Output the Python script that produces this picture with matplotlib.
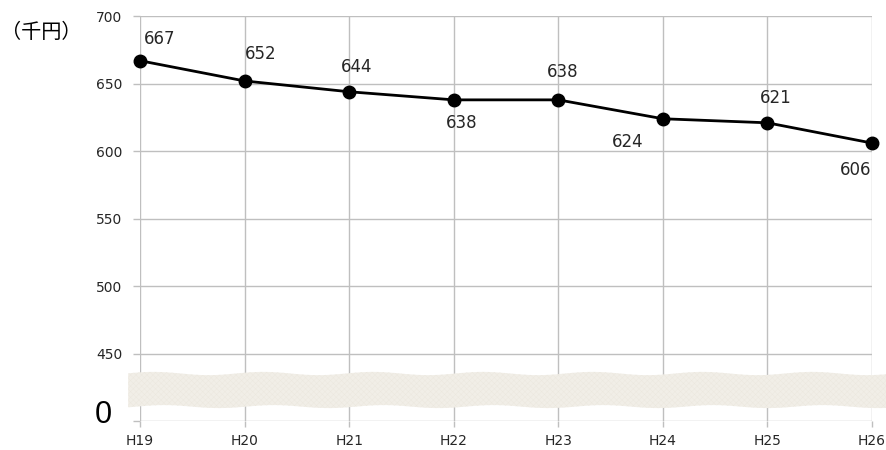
import numpy as np
import matplotlib.pyplot as plt

years = ["H19", "H20", "H21", "H22", "H23", "H24", "H25", "H26"]
values = [667, 652, 644, 638, 638, 624, 621, 606]
y_ticks = [400, 450, 500, 550, 600, 650, 700]
y_tick_labels = ["", "450", "500", "550", "600", "650", "700"]

# label offsets in points (dx, dy) for each point
label_offsets = [(14, 16), (11.5, 19.5), (5, 18), (6, -16.5), (3.5, 20), (-25, -16.5), (6, 18), (-11.5, -19.5)]

plt.rcParams["hatch.linewidth"] = 0.3

fig = plt.figure(figsize=(8.87, 4.5), dpi=100)
ax = fig.add_axes([0.158, 0.0644, 0.825, 0.8996])

x = np.arange(len(years))
ax.plot(x, values, color="black", lw=2, marker="o", ms=9, zorder=4, clip_on=False)

for xi, v, (dx, dy) in zip(x, values, label_offsets):
    ax.annotate(str(v), (xi, v), xytext=(dx, dy), textcoords="offset points",
                ha="center", va="center", fontsize=12, color="#262626")

ax.set_xlim(0, len(years) - 1)
ax.set_ylim(400, 700)
ax.set_xticks(x)
ax.set_xticklabels(years, fontsize=10, color="#262626")
ax.set_yticks(y_ticks)
ax.set_yticklabels(y_tick_labels, fontsize=10, color="#262626")
ax.tick_params(axis="x", length=4, color="#bfbfbf", width=1, pad=5)
ax.tick_params(axis="y", length=5, color="#bfbfbf", width=1, pad=8)
ax.grid(True, color="#bfbfbf", lw=1, zorder=0)
for s in ax.spines.values():
    s.set_visible(False)
ax.set_axisbelow(True)

# axis break band (wavy strip between 0 and 450)
px_scale = (872 - 140) / 7
bx = np.linspace((128 - 140) / px_scale, (890 - 140) / px_scale, 800)
top = 435.2 + 1.2 * np.sin(bx * 2 * np.pi / 1.05 + 0.8)
bot = 410.7 + 1.1 * np.sin(bx * 2 * np.pi / 1.05 + 0.2)
ax.fill_between(bx, bot, top, facecolor="#f1eee7", edgecolor="#ebe7de",
                hatch="xxxxxx", lw=0, zorder=3, clip_on=False)

ax.text(-0.349, 398.5, "0", fontsize=22, ha="center", va="baseline",
        family="Liberation Sans", clip_on=False)
fig.text(0.001, 0.928, "（千円）", fontsize=14.5, va="center",
         family=["Noto Sans CJK JP", "DejaVu Sans"])

fig.savefig("out.png", dpi=100)
